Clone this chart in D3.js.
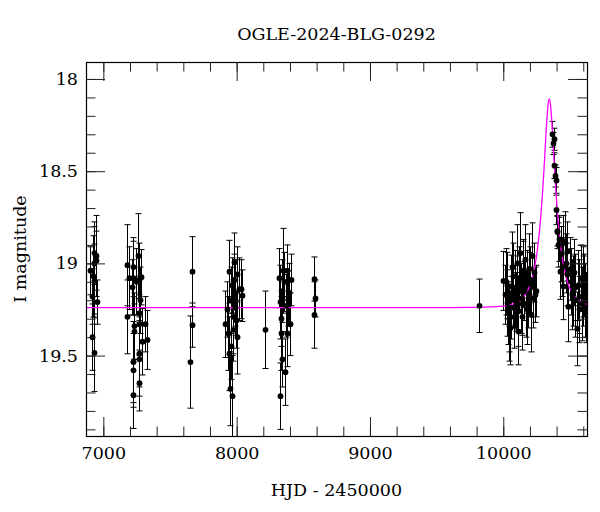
<!DOCTYPE html>
<html><head><meta charset="utf-8">
<script src="https://cdn.jsdelivr.net/npm/d3@7"></script>
<style>body{margin:0;background:#fff}svg{display:block}text{font-family:"DejaVu Serif",serif;fill:#000}</style>
</head><body><svg id="c" width="600" height="512"></svg>
<script>
const title = "OGLE-2024-BLG-0292";
const xLabel = "HJD - 2450000";
const yLabel = "I magnitude";
const xTicks = [7000, 8000, 9000, 10000];
const yTicks = [18, 18.5, 19, 19.5];

// observations: HJD-2450000, I mag, error
const hjd = [
 6900,6920,6930,6930,6943,6933,6955,6918,6928,6915,6948,
 7178,7180,7195,7215,7225,7225,7230,7230,7225,7225,7225,7243,7260,7270,7275,7283,7268,7270,7268,7270,7268,7290,7313,7328,
 7665,7665,7653,
 7915,7928,7933,7943,7950,7965,7955,7963,7970,7978,7980,7990,7993,8000,8005,8020,8030,8043,7958,7945,7990,7973,
 8215,
 8325,8320,8328,8335,8333,8340,8343,8350,8357,8363,8368,8375,8375,8383,8393,8400,8408,
 8583,8585,8583,
 9818,
 9995,10013,10025,10033,10040,10050,10055,10063,10070,10075,10083,10090,10098,10105,10113,10120,10125,10133,10140,10148,10155,10163,10170,10178,10185,10195,10205,10215,10225,10235,10248,10030,10060,10110,10150,10190,10230,10045,10085,10175,10020,10100,10140,10200,
 10363,10375,10383,10383,10388,10393,10398,10403,10405,10420,10425,10445,10450,10463,10475,10488,10500,10510,10520,10530,10540,10555,10560,10570,10580,10590,10600,10612,10620,10430,10470,10535,10595,10410,10440,10480,10515,10565,10605
];
const mag = [
 19.04,19.07,18.945,19.00,18.985,19.095,19.21,19.40,19.485,19.18,18.96,
 19.01,19.29,19.08,19.13,19.02,19.08,19.34,19.37,19.535,19.58,19.715,19.10,18.96,19.09,19.20,19.075,19.27,19.33,19.49,19.52,19.65,19.425,19.33,19.415,
 19.045,19.335,19.535,
 19.33,19.25,19.38,19.045,19.68,19.72,19.20,19.12,19.29,18.995,19.09,19.16,19.31,19.40,19.06,19.14,19.14,19.175,19.45,19.49,19.24,19.36,
 19.36,
 19.21,19.08,19.72,19.30,19.38,19.15,19.52,19.04,19.10,19.59,19.23,19.04,19.38,19.19,19.16,19.33,19.09,
 19.085,19.19,19.28,
 19.23,
 19.095,19.17,19.215,19.27,19.34,19.35,19.125,19.02,19.19,19.07,19.29,19.13,19.21,19.00,19.37,19.08,18.945,19.19,19.29,19.04,19.15,18.98,19.22,19.10,19.19,19.03,19.28,18.96,19.19,19.17,19.15,19.12,19.24,19.26,19.06,19.11,19.05,19.30,19.18,19.25,19.10,19.16,19.22,19.09,
 18.30,18.35,18.327,18.47,18.526,18.55,18.71,18.83,18.825,18.87,19.045,18.88,19.125,18.89,18.935,19.235,19.03,19.10,19.15,19.05,19.20,19.355,19.12,19.18,19.08,19.22,19.15,19.20,19.24,18.95,19.00,19.13,19.10,18.90,19.02,19.06,19.17,19.25,19.12
];
const err = [
 0.13,0.22,0.17,0.20,0.16,0.20,0.12,0.18,0.21,0.15,0.22,
 0.22,0.20,0.17,0.15,0.16,0.20,0.18,0.15,0.22,0.20,0.18,0.18,0.23,0.20,0.18,0.15,0.20,0.16,0.18,0.20,0.15,0.18,0.15,0.16,
 0.19,0.12,0.25,
 0.18,0.15,0.20,0.17,0.20,0.22,0.18,0.15,0.20,0.16,0.14,0.18,0.15,0.20,0.15,0.17,0.16,0.14,0.18,0.20,0.15,0.17,
 0.21,
 0.20,0.16,0.18,0.15,0.20,0.17,0.15,0.23,0.16,0.18,0.17,0.14,0.18,0.15,0.16,0.17,0.14,
 0.12,0.10,0.18,
 0.145,
 0.16,0.16,0.18,0.17,0.19,0.20,0.17,0.19,0.16,0.18,0.17,0.20,0.16,0.21,0.18,0.17,0.22,0.19,0.18,0.17,0.16,0.19,0.18,0.17,0.16,0.19,0.20,0.18,0.16,0.15,0.14,0.18,0.17,0.19,0.18,0.17,0.16,0.18,0.17,0.19,0.18,0.20,0.17,0.18,
 0.07,0.06,0.06,0.07,0.06,0.07,0.08,0.09,0.08,0.12,0.15,0.14,0.18,0.17,0.16,0.19,0.17,0.18,0.19,0.18,0.20,0.20,0.19,0.20,0.18,0.20,0.19,0.20,0.19,0.15,0.16,0.18,0.19,0.12,0.16,0.17,0.19,0.18,0.17
];

// model curve (HJD-2450000, I mag)
const modelT = [6870,9345,9745,9945,10045,10095,10145,10185,10215,10235,10255,10270,10285,10295,10305,10315,10325,10335,10345,10355,10365,10375,10385,10395,10405,10420,10435,10455,10475,10505,10545,10595,10628];
const modelM = [19.240,19.240,19.239,19.235,19.225,19.213,19.187,19.144,19.085,19.022,18.930,18.836,18.712,18.610,18.494,18.367,18.243,18.145,18.107,18.145,18.243,18.367,18.494,18.610,18.712,18.836,18.930,19.022,19.085,19.144,19.187,19.213,19.222];

const L = 86, R = 587, T = 62, B = 436;
const svg = d3.select("#c");
const x = d3.scaleLinear().domain([6870, 10628]).range([L, R]);
const y = d3.scaleLinear().domain([17.908, 19.936]).range([T, B]);

const defs = svg.append("defs");
defs.append("clipPath").attr("id","clip").append("rect").attr("x",L).attr("y",T).attr("width",R-L).attr("height",B-T);

const pts = hjd.map((t,i)=>({t, m:mag[i], e:err[i]}));
const g = svg.append("g").attr("clip-path","url(#clip)");
const eb = g.append("g").attr("stroke","#000").attr("stroke-width",1).attr("fill","none");
pts.forEach(p=>{
  const px = Math.round(x(p.t))+0.5;
  const y1 = y(p.m - p.e), y2 = y(p.m + p.e);
  eb.append("line").attr("x1",px).attr("x2",px).attr("y1",y1).attr("y2",y2);
  eb.append("line").attr("x1",px-3).attr("x2",px+3).attr("y1",y1).attr("y2",y1);
  eb.append("line").attr("x1",px-3).attr("x2",px+3).attr("y1",y2).attr("y2",y2);
});
g.append("path").datum(modelT.map((t,i)=>[t,modelM[i]]))
  .attr("fill","none").attr("stroke","#ff00ff").attr("stroke-width",1.3)
  .attr("d", d3.line().x(d=>x(d[0])).y(d=>y(d[1])).curve(d3.curveMonotoneX));
g.append("g").selectAll("circle").data(pts).join("circle")
  .attr("cx",d=>Math.round(x(d.t))+0.5).attr("cy",d=>y(d.m)).attr("r",2.9).attr("fill","#000");

// axes with inward ticks on all sides
function drawAxis(gen, transform){
  const a = svg.append("g").attr("transform",transform).call(gen);
  a.select(".domain").remove();
  a.selectAll("line").attr("stroke","#222");
  return a;
}
const xMinor = d3.range(7000, 10628, 200);
const yMinor = d3.range(17.9999, 19.94, 0.1).map(v=>+v.toFixed(1)).filter(v=>v>=17.91);
drawAxis(d3.axisBottom(x).tickValues(xMinor).tickSize(-9.5).tickFormat(""), `translate(0,${B})`);
drawAxis(d3.axisTop(x).tickValues(xMinor).tickSize(-9.5).tickFormat(""), `translate(0,${T})`);
drawAxis(d3.axisLeft(y).tickValues(yMinor).tickSize(-9.5).tickFormat(""), `translate(${L},0)`);
drawAxis(d3.axisRight(y).tickValues(yMinor).tickSize(-9.5).tickFormat(""), `translate(${R},0)`);
const xb = drawAxis(d3.axisBottom(x).tickValues(xTicks).tickSize(-19).tickFormat(d3.format("d")), `translate(0,${B})`);
drawAxis(d3.axisTop(x).tickValues(xTicks).tickSize(-19).tickFormat(""), `translate(0,${T})`);
const yl = drawAxis(d3.axisLeft(y).tickValues(yTicks).tickSize(-19).tickFormat(d=>d), `translate(${L},0)`);
drawAxis(d3.axisRight(y).tickValues(yTicks).tickSize(-19).tickFormat(""), `translate(${R},0)`);
svg.selectAll(".tick text").attr("font-family","DejaVu Serif").attr("font-size",17.5).attr("fill","#000");
yl.selectAll(".tick text").attr("x",-8);
xb.selectAll(".tick text").attr("y",11);

svg.append("rect").attr("x",L+0.5).attr("y",T+0.5).attr("width",R-L).attr("height",B-T)
  .attr("fill","none").attr("stroke","#000").attr("stroke-width",1.2);

svg.append("text").attr("x",(L+R)/2).attr("y",40).attr("text-anchor","middle").attr("font-size",17.5).text(title);
svg.append("text").attr("x",(L+R)/2).attr("y",496).attr("text-anchor","middle").attr("font-size",17.5).text(xLabel);
svg.append("text").attr("transform",`translate(26,${(T+B)/2}) rotate(-90)`).attr("text-anchor","middle").attr("font-size",17.5).text(yLabel);
</script></body></html>
